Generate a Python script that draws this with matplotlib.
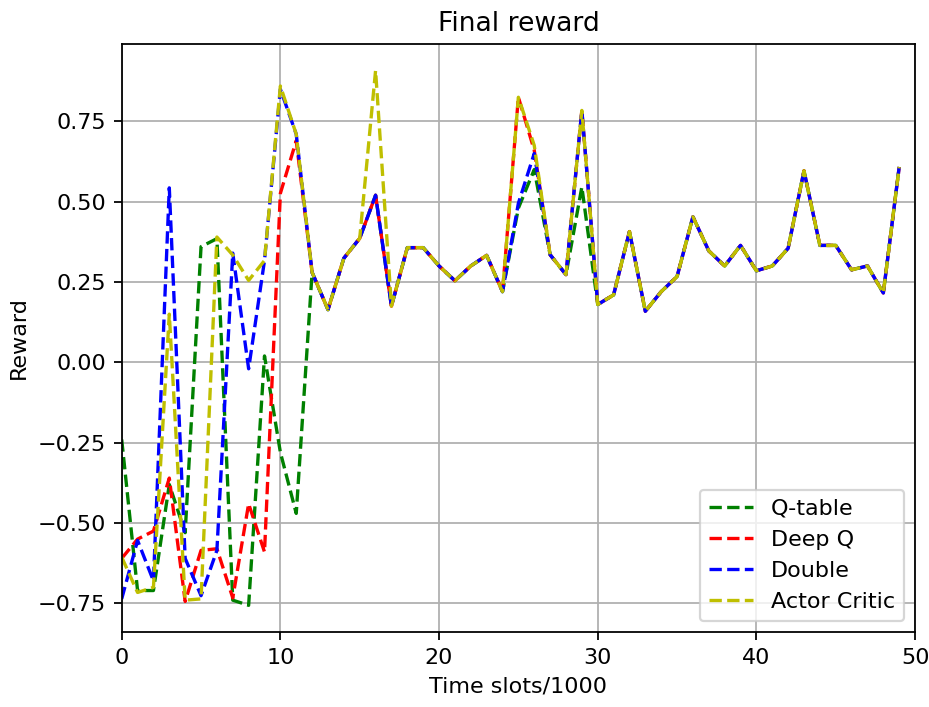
import numpy as np
import matplotlib
matplotlib.use('Agg')
import matplotlib.pyplot as plt

# time slots (x1000)
t = np.arange(50)

# reward per method
q_table = [-0.24, -0.71, -0.71, -0.38, -0.53, 0.36, 0.385, -0.74, -0.756, 0.02,
           -0.28, -0.47, 0.28, 0.164, 0.324, 0.386, 0.52, 0.175, 0.357, 0.357,
           0.30, 0.254, 0.30, 0.333, 0.22, 0.48, 0.60, 0.335, 0.273, 0.546,
           0.18, 0.21, 0.407, 0.159, 0.22, 0.267, 0.453, 0.347, 0.30, 0.364,
           0.285, 0.30, 0.355, 0.596, 0.364, 0.364, 0.288, 0.30, 0.216, 0.608]
deep_q = [-0.61, -0.55, -0.525, -0.36, -0.744, -0.585, -0.58, -0.733, -0.44, -0.59,
          0.526, 0.69, 0.28, 0.164, 0.324, 0.386, 0.52, 0.175, 0.357, 0.357,
          0.30, 0.254, 0.30, 0.333, 0.22, 0.825, 0.66, 0.335, 0.273, 0.784,
          0.18, 0.21, 0.407, 0.159, 0.22, 0.267, 0.453, 0.347, 0.30, 0.364,
          0.285, 0.30, 0.355, 0.596, 0.364, 0.364, 0.288, 0.30, 0.216, 0.608]
double = [-0.736, -0.554, -0.68, 0.543, -0.61, -0.726, -0.585, 0.34, -0.02, 0.317,
          0.85, 0.71, 0.28, 0.164, 0.324, 0.386, 0.52, 0.175, 0.357, 0.357,
          0.30, 0.254, 0.30, 0.333, 0.22, 0.495, 0.65, 0.335, 0.273, 0.784,
          0.18, 0.21, 0.407, 0.159, 0.22, 0.267, 0.453, 0.347, 0.30, 0.364,
          0.285, 0.30, 0.355, 0.596, 0.364, 0.364, 0.288, 0.30, 0.216, 0.608]
actor_critic = [-0.606, -0.716, -0.70, 0.15, -0.74, -0.736, 0.39, 0.334, 0.255, 0.317,
                0.86, 0.71, 0.28, 0.164, 0.324, 0.386, 0.908, 0.175, 0.357, 0.357,
                0.30, 0.254, 0.30, 0.333, 0.22, 0.825, 0.675, 0.335, 0.273, 0.784,
                0.18, 0.21, 0.407, 0.159, 0.22, 0.267, 0.453, 0.347, 0.30, 0.364,
                0.285, 0.30, 0.355, 0.596, 0.364, 0.364, 0.288, 0.30, 0.216, 0.608]

fig = plt.figure(figsize=(929/160, 707/160), dpi=160)
plt.subplots_adjust(left=0.131, right=0.985, top=0.938, bottom=0.106)

plt.plot(t, q_table, 'g--', label='Q-table')
plt.plot(t, deep_q, 'r--', label='Deep Q')
plt.plot(t, double, 'b--', label='Double')
plt.plot(t, actor_critic, 'y--', label='Actor Critic')
plt.xlim(0, 50)
plt.grid()
plt.title('Final reward')
plt.xlabel('Time slots/1000')
plt.ylabel('Reward')
plt.legend(loc='lower right')

plt.savefig('out.png', dpi=160)
